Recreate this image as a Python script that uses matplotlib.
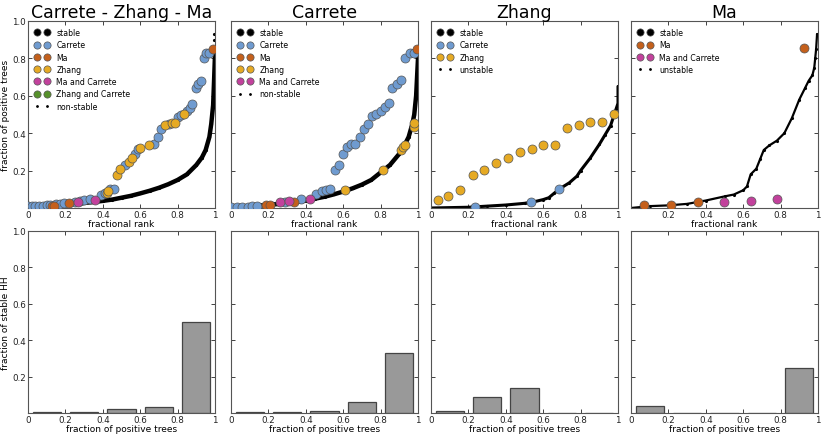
import numpy as np
import matplotlib.pyplot as plt

# colours
c_carrete = '#6f9bd0'
c_ma = '#c4601c'
c_zhang = '#e6aa24'
c_ma_car = '#c2419c'
c_zh_car = '#55902a'

titles = ['Carrete - Zhang - Ma', 'Carrete', 'Zhang', 'Ma']

# ---- panel 1: Carrete - Zhang - Ma ----
p1_curve_x = [0, 0.05, 0.1, 0.15, 0.2, 0.25, 0.3, 0.35, 0.4, 0.45, 0.5, 0.55, 0.6, 0.65,
              0.7, 0.75, 0.8, 0.85, 0.9, 0.93, 0.95, 0.97, 0.98, 0.99, 0.995, 1.0]
p1_curve_y = [0.005, 0.008, 0.011, 0.014, 0.018, 0.022, 0.027, 0.032, 0.038, 0.045, 0.055,
              0.065, 0.078, 0.092, 0.108, 0.127, 0.15, 0.18, 0.23, 0.27, 0.31, 0.38, 0.45,
              0.55, 0.68, 0.82]
p1_extra_x = [0.995, 0.997]
p1_extra_y = [0.9, 0.93]
p1_car_x = [0.0, 0.02, 0.04, 0.06, 0.08, 0.1, 0.12, 0.15, 0.17, 0.19, 0.25, 0.28, 0.30,
            0.33, 0.39, 0.41, 0.44, 0.46, 0.52, 0.573, 0.588, 0.676, 0.694, 0.711, 0.753,
            0.80, 0.82, 0.85, 0.866, 0.878, 0.896, 0.909, 0.923, 0.94, 0.953, 0.968]
p1_car_y = [0.01, 0.01, 0.012, 0.012, 0.013, 0.015, 0.015, 0.02, 0.02, 0.025, 0.03, 0.04,
            0.045, 0.05, 0.07, 0.08, 0.1, 0.1, 0.228, 0.29, 0.317, 0.34, 0.38, 0.424, 0.451,
            0.487, 0.50, 0.519, 0.537, 0.558, 0.642, 0.661, 0.679, 0.80, 0.829, 0.829]
p1_ma_x = [0.13, 0.14, 0.22, 0.99]
p1_ma_y = [0.01, 0.01, 0.025, 0.852]
p1_zh_x = [0.42, 0.43, 0.475, 0.493, 0.538, 0.556, 0.6, 0.645, 0.735, 0.77, 0.785, 0.833]
p1_zh_y = [0.08, 0.09, 0.175, 0.207, 0.246, 0.267, 0.32, 0.335, 0.442, 0.456, 0.456, 0.504]
p1_mc_x = [0.27, 0.36]
p1_mc_y = [0.03, 0.045]

# ---- panel 2: Carrete ----
p2_curve_x = [0, 0.05, 0.1, 0.15, 0.2, 0.25, 0.3, 0.35, 0.4, 0.45, 0.5, 0.55, 0.6, 0.65,
              0.7, 0.75, 0.8, 0.85, 0.9, 0.93, 0.95, 0.97, 0.98, 0.99, 0.995, 1.0]
p2_curve_y = [0.003, 0.006, 0.01, 0.013, 0.017, 0.021, 0.026, 0.032, 0.04, 0.05, 0.06,
              0.073, 0.088, 0.105, 0.125, 0.15, 0.19, 0.23, 0.29, 0.34, 0.38, 0.45, 0.5,
              0.6, 0.7, 0.8]
p2_car_x = [0.0, 0.03, 0.06, 0.09, 0.11, 0.14, 0.29, 0.377, 0.457, 0.484, 0.507, 0.53,
            0.555, 0.578, 0.6, 0.621, 0.64, 0.662, 0.689, 0.71, 0.733, 0.754, 0.778, 0.8,
            0.822, 0.843, 0.863, 0.888, 0.911, 0.932, 0.955, 0.977]
p2_car_y = [0.005, 0.006, 0.007, 0.008, 0.01, 0.012, 0.03, 0.05, 0.077, 0.089, 0.098,
            0.103, 0.205, 0.228, 0.29, 0.326, 0.34, 0.34, 0.38, 0.424, 0.451, 0.492, 0.504,
            0.519, 0.54, 0.561, 0.643, 0.665, 0.683, 0.802, 0.829, 0.829]
p2_ma_x = [0.185, 0.208, 0.336, 0.996]
p2_ma_y = [0.014, 0.014, 0.03, 0.852]
p2_zh_x = [0.609, 0.813, 0.911, 0.92, 0.932, 0.977, 0.979]
p2_zh_y = [0.094, 0.205, 0.308, 0.326, 0.339, 0.433, 0.456]
p2_mc_x = [0.26, 0.31, 0.42]
p2_mc_y = [0.032, 0.037, 0.046]

# ---- panel 3: Zhang ----
p3_curve_x = [0, 0.1, 0.2, 0.3, 0.4, 0.5, 0.55, 0.6, 0.63, 0.66, 0.7, 0.74, 0.78, 0.8,
              0.85, 0.9, 0.93, 0.96, 0.98, 0.99, 1.0, 1.0, 1.0]
p3_curve_y = [0.0, 0.002, 0.004, 0.01, 0.016, 0.025, 0.033, 0.045, 0.055, 0.08, 0.11,
              0.135, 0.17, 0.2, 0.265, 0.34, 0.39, 0.44, 0.5, 0.53, 0.56, 0.6, 0.65]
p3_zh_x = [0.036, 0.093, 0.156, 0.223, 0.285, 0.348, 0.413, 0.474, 0.539, 0.6, 0.664,
           0.727, 0.79, 0.851, 0.916, 0.977]
p3_zh_y = [0.041, 0.062, 0.094, 0.175, 0.205, 0.241, 0.267, 0.3, 0.317, 0.335, 0.339,
           0.428, 0.442, 0.46, 0.46, 0.504]
p3_car_x = [0.237, 0.533, 0.686]
p3_car_y = [0.005, 0.03, 0.1]

# ---- panel 4: Ma ----
p4_curve_x = [0, 0.05, 0.1, 0.2, 0.3, 0.4, 0.5, 0.55, 0.6, 0.62, 0.64, 0.67, 0.69, 0.71,
              0.74, 0.78, 0.82, 0.86, 0.9, 0.93, 0.95, 0.97, 0.98, 0.985, 0.99, 0.995]
p4_curve_y = [0.0, 0.005, 0.01, 0.014, 0.022, 0.04, 0.062, 0.072, 0.095, 0.115, 0.18,
              0.21, 0.26, 0.31, 0.335, 0.36, 0.4, 0.48, 0.58, 0.64, 0.68, 0.71, 0.75, 0.8,
              0.85, 0.93]
p4_ma_x = [0.071, 0.214, 0.356, 0.925]
p4_ma_y = [0.014, 0.014, 0.03, 0.856]
p4_mc_x = [0.498, 0.64, 0.783]
p4_mc_y = [0.032, 0.037, 0.05]

# ---- histograms (bottom row) ----
bin_centers = [0.1, 0.3, 0.5, 0.7, 0.9]
hist_all = [0.004, 0.004, 0.02, 0.035, 0.5]
hist_carrete = [0.003, 0.004, 0.01, 0.06, 0.33]
hist_zhang = [0.01, 0.09, 0.14, 0.0, 0.0]
hist_ma = [0.04, 0.0, 0.0, 0.0, 0.25]
hists = [hist_all, hist_carrete, hist_zhang, hist_ma]

fig = plt.figure(figsize=(8.22, 4.35), dpi=100)
lefts = [28, 231, 431, 631]
W, H = 822., 435.
top_axes = [fig.add_axes([l / W, 1 - 209 / H, 187 / W, 187 / H]) for l in lefts]
bot_axes = [fig.add_axes([l / W, 1 - 414 / H, 187 / W, 182 / H]) for l in lefts]

xt = [0, 0.2, 0.4, 0.6, 0.8, 1.0]
xtl = ['0', '0.2', '0.4', '0.6', '0.8', '1']
yt = [0.2, 0.4, 0.6, 0.8, 1.0]
ytl = ['0.2', '0.4', '0.6', '0.8', '1.0']

fs_tick = 6.3
fs_lab = 6.5


def style(ax, ylab):
    ax.set_xlim(0, 1)
    ax.set_ylim(0, 1)
    ax.set_xticks(xt)
    ax.set_xticklabels(xtl)
    ax.set_yticks(yt)
    if ylab:
        ax.set_yticklabels(ytl)
    else:
        ax.set_yticklabels([])
    ax.tick_params(direction='in', top=True, right=True, labelsize=fs_tick, length=3,
                   width=0.6, pad=1.5, colors='#222222')
    for s in ax.spines.values():
        s.set_color('#555555')
        s.set_linewidth(0.8)


big = dict(marker='o', ls='none', ms=6.5, mec='#555555', mew=0.5)


def curve(ax, x, y, lw, label):
    ax.plot(x, y, color='k', lw=lw, solid_capstyle='round', zorder=2)
    ax.plot(x, y, '.', color='k', ms=2.5, label=label, zorder=2)


# panel 1
ax = top_axes[0]
ax.plot([], [], color='k', label='stable', **big)
ax.plot(p1_car_x, p1_car_y, color=c_carrete, label='Carrete', zorder=3, **big)
ax.plot(p1_ma_x, p1_ma_y, color=c_ma, label='Ma', zorder=3, **big)
ax.plot(p1_zh_x, p1_zh_y, color=c_zhang, label='Zhang', zorder=3, **big)
ax.plot(p1_mc_x, p1_mc_y, color=c_ma_car, label='Ma and Carrete', zorder=3, **big)
ax.plot([], [], color=c_zh_car, label='Zhang and Carrete', **big)
curve(ax, p1_curve_x, p1_curve_y, 3.2, 'non-stable')
ax.plot(p1_extra_x, p1_extra_y, '.', color='k', ms=2.5)

# panel 2
ax = top_axes[1]
ax.plot([], [], color='k', label='stable', **big)
ax.plot(p2_car_x, p2_car_y, color=c_carrete, label='Carrete', zorder=3, **big)
ax.plot(p2_ma_x, p2_ma_y, color=c_ma, label='Ma', zorder=3, **big)
ax.plot(p2_zh_x, p2_zh_y, color=c_zhang, label='Zhang', zorder=3, **big)
ax.plot(p2_mc_x, p2_mc_y, color=c_ma_car, label='Ma and Carrete', zorder=3, **big)
curve(ax, p2_curve_x, p2_curve_y, 3.2, 'non-stable')

# panel 3
ax = top_axes[2]
ax.plot([], [], color='k', label='stable', **big)
ax.plot(p3_car_x, p3_car_y, color=c_carrete, label='Carrete', zorder=3, **big)
ax.plot(p3_zh_x, p3_zh_y, color=c_zhang, label='Zhang', zorder=3, **big)
curve(ax, p3_curve_x, p3_curve_y, 2.2, 'unstable')

# panel 4
ax = top_axes[3]
ax.plot([], [], color='k', label='stable', **big)
ax.plot(p4_ma_x, p4_ma_y, color=c_ma, label='Ma', zorder=3, **big)
ax.plot(p4_mc_x, p4_mc_y, color=c_ma_car, label='Ma and Carrete', zorder=3, **big)
curve(ax, p4_curve_x, p4_curve_y, 1.6, 'unstable')

for i, ax in enumerate(top_axes):
    style(ax, i == 0)
    ax.set_title(titles[i], fontsize=12.5, pad=3)
    ax.set_xlabel('fractional rank', fontsize=fs_lab, labelpad=0)
    ax.legend(loc='upper left', frameon=False, numpoints=2, fontsize=5.6,
              handletextpad=0.85, labelspacing=0.42, borderaxespad=0.5, borderpad=0.4,
              handlelength=1.9, markerscale=0.8)
top_axes[0].set_ylabel('fraction of positive trees', fontsize=fs_lab, labelpad=1.5)
top_axes[3].set_xticks(xt[1:])
top_axes[3].set_xticklabels(xtl[1:])

for i, ax in enumerate(bot_axes):
    ax.bar(bin_centers, hists[i], width=0.15, color='#999999', edgecolor='#444444',
           linewidth=0.9)
    style(ax, i == 0)
    ax.set_xlabel('fraction of positive trees', fontsize=fs_lab, labelpad=0)
bot_axes[0].set_ylabel('fraction of stable HH', fontsize=fs_lab, labelpad=1.5)

fig.savefig('out.png', dpi=100)
